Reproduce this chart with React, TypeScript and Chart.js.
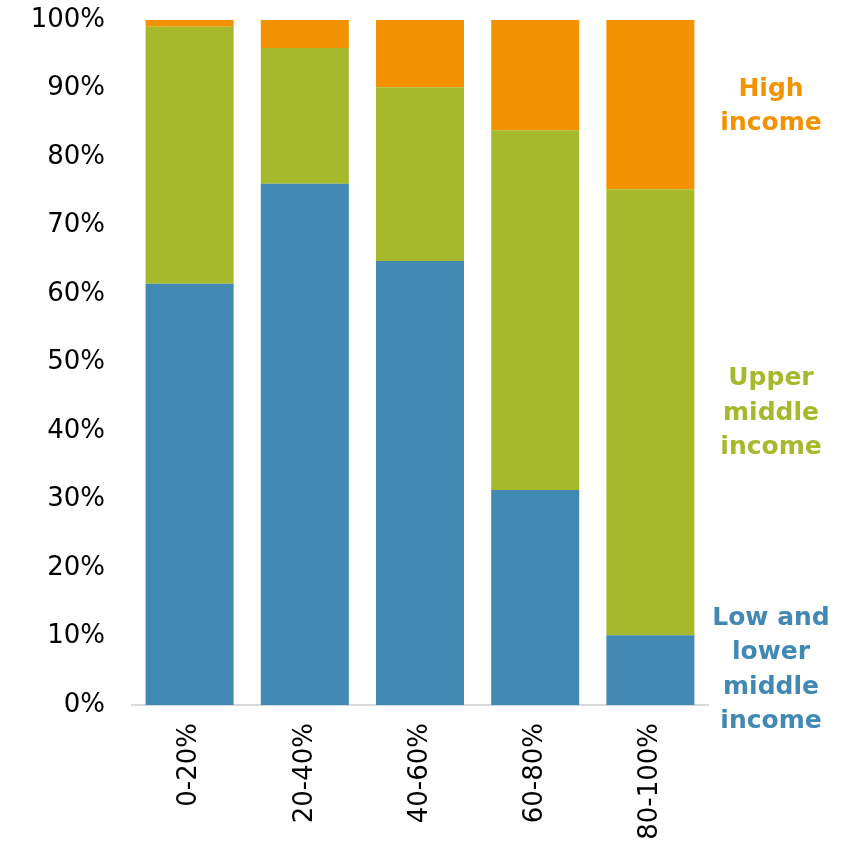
import React, { useEffect, useRef } from "react";
import { Chart, registerables } from "chart.js";

Chart.register(...registerables);

const categories = ["0-20%", "20-40%", "40-60%", "60-80%", "80-100%"];
const lowIncome = [61.5, 76.1, 64.8, 31.4, 10.2];
const upperMiddle = [37.5, 19.8, 25.4, 52.5, 65.1];
const highIncome = [1.0, 4.1, 9.8, 16.1, 24.7];
const yTicks = [0, 10, 20, 30, 40, 50, 60, 70, 80, 90, 100];

const seriesLabels = [
  { lines: ["High", "income"], color: "#F39200", at: 87.4 },
  { lines: ["Upper", "middle", "income"], color: "#A6B82B", at: 42.6 },
  { lines: ["Low and", "lower", "middle", "income"], color: "#4189B3", at: 5.1 },
];

const sideLabelPlugin = {
  id: "sideLabels",
  afterDraw(chart: any) {
    const { ctx, chartArea, scales } = chart;
    const y = scales.y;
    ctx.save();
    ctx.font = "bold 25px 'DejaVu Sans'";
    ctx.textAlign = "center";
    ctx.textBaseline = "middle";
    const lh = 34.5;
    const cx = chartArea.right + 63;
    for (const s of seriesLabels) {
      const cy = y.getPixelForValue(s.at);
      const start = cy - ((s.lines.length - 1) * lh) / 2;
      ctx.fillStyle = s.color;
      s.lines.forEach((t, i) => ctx.fillText(t, cx, start + i * lh));
    }
    ctx.restore();
  },
};

export default function App() {
  const ref = useRef<HTMLCanvasElement>(null);
  useEffect(() => {
    if (!ref.current) return;
    const chart = new Chart(ref.current, {
      type: "bar",
      data: {
        labels: categories,
        datasets: [
          { label: "Low and lower middle income", data: lowIncome, backgroundColor: "#4189B3" },
          { label: "Upper middle income", data: upperMiddle, backgroundColor: "#A6B82B" },
          { label: "High income", data: highIncome, backgroundColor: "#F39200" },
        ],
      },
      options: {
        responsive: false,
        animation: false,
        layout: { padding: { top: 20, right: 135, left: 0, bottom: 0 } },
        datasets: { bar: { barPercentage: 0.764, categoryPercentage: 1, borderWidth: 0 } },
        plugins: { legend: { display: false }, tooltip: { enabled: false } },
        scales: {
          x: {
            stacked: true,
            grid: { display: false, drawTicks: false },
            border: { display: true, color: "#D9D9D9", width: 2 },
            ticks: {
              minRotation: 90,
              maxRotation: 90,
              padding: 18,
              color: "#000",
              font: { family: "'DejaVu Sans'", size: 26 },
            },
            afterFit: (s: any) => { s.height = 144; s.paddingLeft = 0; s.paddingRight = 0; s.paddingTop = 0; s.paddingBottom = 0; },
          },
          y: {
            stacked: true,
            min: 0,
            max: 100,
            afterBuildTicks: (s: any) => { s.ticks = yTicks.map((v) => ({ value: v })); },
            grid: { display: false, drawTicks: false },
            border: { display: false },
            ticks: {
              padding: 27,
              color: "#000",
              font: { family: "'DejaVu Sans'", size: 26 },
              callback: (v: any) => v + "%",
            },
            afterFit: (s: any) => { s.width = 132; s.paddingTop = 0; s.paddingBottom = 0; s.paddingLeft = 0; s.paddingRight = 0; },
          },
        },
      },
      plugins: [sideLabelPlugin],
    });
    return () => chart.destroy();
  }, []);
  return (
    <div style={{ position: "fixed", left: 0, top: 0, width: 843, height: 849, background: "#fff" }}>
      <canvas ref={ref} width={843} height={849} />
    </div>
  );
}
